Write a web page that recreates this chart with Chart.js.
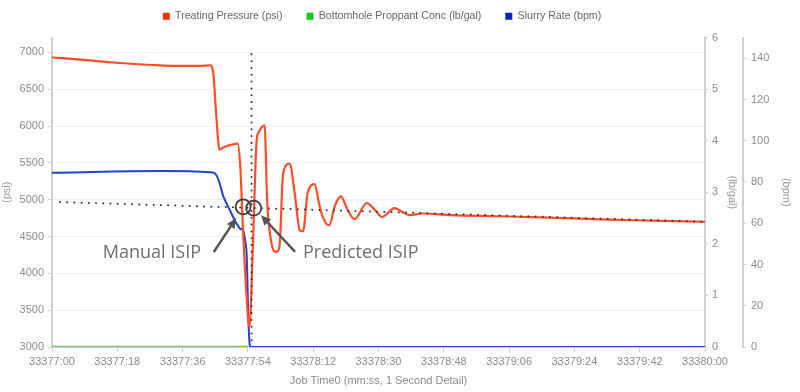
<!DOCTYPE html>
<html>
<head>
<meta charset="utf-8">
<script src="https://cdn.jsdelivr.net/npm/chart.js@4"></script>
<style>
  html, body { margin: 0; padding: 0; background: #fff; }
  #wrap { width: 800px; height: 392px; }
</style>
</head>
<body>
<div id="wrap"><canvas id="c" width="800" height="392"></canvas></div>
<script>
// ---------------- data ----------------
const seriesNames = ['Treating Pressure (psi)', 'Bottomhole Proppant Conc (lb/gal)', 'Slurry Rate (bpm)'];
const timeTickLabels = ['33377:00','33377:18','33377:36','33377:54','33378:12','33378:30','33378:48','33379:06','33379:24','33379:42','33380:00'];
const psiTicks   = [3000, 3500, 4000, 4500, 5000, 5500, 6000, 6500, 7000];
const lbgalTicks = [0, 1, 2, 3, 4, 5, 6];
const bpmTicks   = [0, 20, 40, 60, 80, 100, 120, 140];

// seconds after 33377:00
const pressureTimes = [0, 8, 16, 24, 31, 36, 41, 43.6, 44.5, 45.2, 46.2, 47.5, 49, 51.2, 51.9, 52.6, 53.5, 54.4, 55.4, 56.4, 57.0, 58.6, 59.3, 60.5, 61.8, 62.7, 63.7, 65.5, 66.9, 68.3, 69.2, 70.5, 72.4, 73.6, 74.6, 76.4, 78, 79.6, 81.5, 83.4, 86.8, 89, 91, 94.4, 96.5, 98.5, 102, 110, 123, 137, 151, 165, 180];
const pressurePsi   = [6930, 6900, 6865, 6838, 6820, 6815, 6815, 6825, 6700, 6200, 5680, 5715, 5740, 5760, 5450, 4650, 3800, 3275, 4400, 5800, 5920, 6008, 4990, 4410, 4290, 4360, 5350, 5490, 5087, 4585, 4570, 5100, 5210, 4950, 4770, 4650, 4920, 5045, 4860, 4735, 4955, 4860, 4765, 4885, 4835, 4790, 4812, 4790, 4775, 4757, 4732, 4715, 4700];

const proppantTimes = [0, 54.1];
const proppantConc  = [0, 0];

const slurryTimes = [0, 44.6, 47.3, 49.1, 50.4, 51.8, 52.7, 53.6, 54.1, 54.5, 54.9, 180];
const slurryBpm   = [84.5, 84.5, 72.7, 66.1, 61.3, 57.4, 56.6, 46.9, 14.7, 1, 0, 0];

// ISIP trend line (dotted) and shut-in time line (dotted)
const trendTimes = [2.2, 180];
const trendPsi   = [4968, 4700];
const shutInTimes = [55.0, 55.0];
const shutInPsi   = [3090, 7030];

// ISIP picks & callouts
const isipLabels    = ['Manual ISIP', 'Predicted ISIP'];
const isipTimes     = [52.7, 55.6];
const isipPressures = [4903, 4885];
const labelTimes    = [14.0, 69.2];
const labelPsi      = [4275, 4275];
const arrowTailTimes = [44.6, 67.0];
const arrowTailPsi   = [4290, 4290];
const arrowTipTimes  = [50.8, 57.6];
const arrowTipPsi    = [4750, 4790];

const lineColors   = ['#ff4b26', '#6cc86c', '#2141cf'];
const legendColors = ['#ff3300', '#11cc11', '#0022cc'];

// --------------- helpers ---------------
const pts = (xs, ys) => xs.map((x, i) => ({ x: x, y: ys[i] }));
const fixedTicks = (vals) => (s) => { s.ticks = vals.map(v => ({ value: v })); };

const legendNudge = {
  id: 'legendNudge',
  afterLayout(chart) {
    const l = chart.legend;
    if (!l) return;
    l.top -= 6; l.bottom -= 6;
    l.left -= 18; l.right -= 18;
  }
};

const isipAnnotations = {
  id: 'isipAnnotations',
  afterDatasetsDraw(chart) {
    const { ctx } = chart;
    const xs = chart.scales.x, ys = chart.scales.psi;
    ctx.save();
    ctx.strokeStyle = '#3c3c3c';
    ctx.lineWidth = 1.8;
    isipTimes.forEach((t, i) => {
      ctx.beginPath();
      ctx.arc(xs.getPixelForValue(t), ys.getPixelForValue(isipPressures[i]), 7.5, 0, Math.PI * 2);
      ctx.stroke();
    });
    ctx.strokeStyle = '#555';
    ctx.fillStyle = '#555';
    ctx.lineWidth = 2.5;
    arrowTailTimes.forEach((t, i) => {
      const x0 = xs.getPixelForValue(t), y0 = ys.getPixelForValue(arrowTailPsi[i]);
      const x1 = xs.getPixelForValue(arrowTipTimes[i]), y1 = ys.getPixelForValue(arrowTipPsi[i]);
      const a = Math.atan2(y1 - y0, x1 - x0);
      const head = 10, hw = 4.5;
      const bx = x1 - head * Math.cos(a), by = y1 - head * Math.sin(a);
      ctx.beginPath();
      ctx.moveTo(x0, y0);
      ctx.lineTo(bx, by);
      ctx.stroke();
      ctx.beginPath();
      ctx.moveTo(x1, y1);
      ctx.lineTo(bx + hw * Math.sin(a), by - hw * Math.cos(a));
      ctx.lineTo(bx - hw * Math.sin(a), by + hw * Math.cos(a));
      ctx.closePath();
      ctx.fill();
    });
    ctx.fillStyle = '#6e6e6e';
    ctx.font = '18px "Open Sans", "Noto Sans", sans-serif';
    ctx.textBaseline = 'middle';
    ctx.textAlign = 'left';
    isipLabels.forEach((s, i) => {
      ctx.fillText(s, xs.getPixelForValue(labelTimes[i]), ys.getPixelForValue(labelPsi[i]));
    });
    ctx.restore();
  }
};

Chart.defaults.font.family = '"Liberation Sans", Arial, sans-serif';
Chart.defaults.color = '#8c8c8c';

const hiddenLegend = ['ISIP trend', 'Shut-in'];

new Chart(document.getElementById('c'), {
  type: 'line',
  data: {
    datasets: [
      { label: seriesNames[0], data: pts(pressureTimes, pressurePsi), yAxisID: 'psi',
        borderColor: lineColors[0], backgroundColor: legendColors[0], borderWidth: 2.2,
        pointRadius: 0, cubicInterpolationMode: 'monotone', order: 1 },
      { label: seriesNames[1], data: pts(proppantTimes, proppantConc), yAxisID: 'lbgal',
        borderColor: lineColors[1], backgroundColor: legendColors[1], borderWidth: 2.5,
        pointRadius: 0, order: 3 },
      { label: seriesNames[2], data: pts(slurryTimes, slurryBpm), yAxisID: 'bpm',
        borderColor: lineColors[2], backgroundColor: legendColors[2], borderWidth: 2,
        pointRadius: 0, tension: 0.2, order: 2 },
      { label: 'ISIP trend', data: pts(trendTimes, trendPsi), yAxisID: 'psi',
        borderColor: '#333', borderWidth: 2, borderDash: [0.01, 7.2], borderCapStyle: 'round',
        pointRadius: 0, order: 0 },
      { label: 'Shut-in', data: pts(shutInTimes, shutInPsi), yAxisID: 'psi',
        borderColor: '#333', borderWidth: 2, borderDash: [0.01, 6.8], borderCapStyle: 'round',
        pointRadius: 0, order: 0 }
    ]
  },
  options: {
    responsive: false,
    animation: false,
    devicePixelRatio: 1,
    layout: { padding: { top: -7, left: 0, right: 0, bottom: 0 } },
    plugins: {
      tooltip: { enabled: false },
      legend: {
        position: 'top',
        labels: {
          boxWidth: 7, boxHeight: 7, padding: 24, color: '#666',
          font: { size: 10.6 },
          sort: (a, b) => a.datasetIndex - b.datasetIndex,
          filter: (item) => !hiddenLegend.includes(item.text),
          generateLabels(chart) {
            return Chart.defaults.plugins.legend.labels.generateLabels(chart).map(l => {
              const c = legendColors[l.datasetIndex] || l.fillStyle;
              return Object.assign(l, { fillStyle: c, strokeStyle: c, lineWidth: 0 });
            });
          }
        }
      }
    },
    scales: {
      x: {
        type: 'linear', min: 0, max: 180,
        afterFit: (s) => { s.height = 45; },
        ticks: { stepSize: 18, autoSkip: false, maxRotation: 0, padding: 3,
                 font: { size: 11 }, color: '#8c8c8c',
                 callback: (v) => timeTickLabels[Math.round(v / 18)] },
        grid: { drawOnChartArea: false, drawTicks: true, tickLength: 5, tickColor: '#d0d0d0' },
        border: { color: '#d0d0d0', width: 2 },
        title: { display: true, text: 'Job Time0 (mm:ss, 1 Second Detail)', font: { size: 11 }, color: '#8c8c8c', padding: { top: 4, bottom: 4 } }
      },
      psi: {
        type: 'linear', position: 'left', min: 3000, max: 7200,
        afterFit: (s) => { s.width = 52; },
        afterBuildTicks: fixedTicks(psiTicks),
        ticks: { padding: 4, font: { size: 11 }, color: '#8c8c8c', callback: (v) => String(v) },
        grid: { color: '#f1f1f1', tickColor: '#d0d0d0', tickLength: 4 },
        border: { color: '#d0d0d0', width: 2 },
        title: { display: true, text: '(psi)', font: { size: 11 }, color: '#9a9a9a', padding: { top: 0, bottom: 0 } }
      },
      lbgal: {
        type: 'linear', position: 'right', min: 0, max: 6,
        afterFit: (s) => { s.width = 38; },
        afterBuildTicks: fixedTicks(lbgalTicks),
        ticks: { padding: 4, font: { size: 11 }, color: '#8c8c8c', callback: (v) => String(v) },
        grid: { drawOnChartArea: false, tickColor: '#d0d0d0', tickLength: 3 },
        border: { color: '#d0d0d0', width: 2 },
        title: { display: true, text: '(lb/gal)', font: { size: 11 }, color: '#9a9a9a', padding: { top: 4, bottom: 0 } }
      },
      bpm: {
        type: 'linear', position: 'right', min: 0, max: 150,
        afterFit: (s) => { s.width = 57; },
        afterBuildTicks: fixedTicks(bpmTicks),
        ticks: { padding: 5, font: { size: 11 }, color: '#8c8c8c', callback: (v) => String(v) },
        grid: { drawOnChartArea: false, tickColor: '#d0d0d0', tickLength: 3 },
        border: { color: '#d0d0d0', width: 2 },
        title: { display: true, text: '(bpm)', font: { size: 11 }, color: '#9a9a9a', padding: { top: 7, bottom: 0 } }
      }
    }
  },
  plugins: [legendNudge, isipAnnotations]
});
</script>
</body>
</html>
